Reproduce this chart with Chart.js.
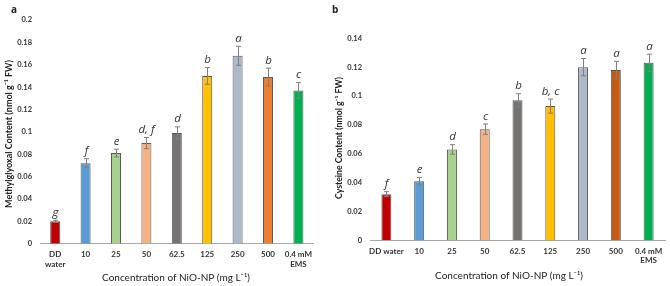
<!DOCTYPE html>
<html><head><meta charset="utf-8">
<script src="https://cdn.jsdelivr.net/npm/chart.js@4/dist/chart.umd.min.js"></script>
<style>
html,body{margin:0;padding:0;background:#fff;}
#wrap{position:relative;width:670px;height:286px;overflow:hidden;}
#c1{position:absolute;left:0;top:0;}
#c2{position:absolute;left:330px;top:0;}
</style></head>
<body><div id="wrap"><canvas id="c1" width="330" height="286"></canvas><canvas id="c2" width="340" height="286"></canvas></div>
<script>
const categoriesA = [["DD","water"],"10","25","50","62.5","125","250","500",["0.4 mM","EMS"]];
const categoriesB = ["DD water","10","25","50","62.5","125","250","500",["0.4 mM","EMS"]];
const mgValues  = [0.020,0.072,0.081,0.090,0.099,0.150,0.168,0.149,0.137];
const mgErrors  = [0.001,0.004,0.0035,0.005,0.0055,0.0075,0.0085,0.008,0.007];
const mgLetters = ["g","f","e","d, f","d","b","a","b","c"];
const cysValues  = [0.032,0.041,0.063,0.077,0.097,0.093,0.120,0.118,0.123];
const cysErrors  = [0.0017,0.0026,0.0033,0.0036,0.0046,0.0049,0.006,0.006,0.006];
const cysLetters = ["f","e","d","c","b","b, c","a","a","a"];
const colorsA = ["#C00000","#5B9BD5","#A9D18E","#F4B183","#767171","#FFC000","#ADB9CA","#ED7D31","#00B050"];
const colorsB = ["#C00000","#5B9BD5","#A9D18E","#F4B183","#767171","#FFC000","#ADB9CA","#C55A11","#00B050"];
const yTicksA = {min:0,max:0.2,step:0.02};
const yTicksB = {min:0,max:0.14,step:0.02};

function makeChart(id, cats, vals, errs, letters, colors, yt, cfg){
  const deco = {
    id:'deco',
    afterDatasetsDraw(chart){
      const ctx = chart.ctx, x = chart.scales.x, y = chart.scales.y;
      ctx.save();
      ctx.strokeStyle = '#7f7f7f'; ctx.lineWidth = 1;
      vals.forEach((v,i)=>{
        const cx = Math.round(x.getPixelForValue(i)) + 0.5;
        const t = y.getPixelForValue(v+errs[i]), b = y.getPixelForValue(v-errs[i]);
        ctx.beginPath();
        ctx.moveTo(cx,t); ctx.lineTo(cx,b);
        ctx.moveTo(cx-2.5,t); ctx.lineTo(cx+2.5,t);
        ctx.moveTo(cx-2.5,b); ctx.lineTo(cx+2.5,b);
        ctx.stroke();
        ctx.fillStyle = '#333';
        ctx.font = 'italic 11.5px "Open Sans"';
        ctx.textAlign = 'center'; ctx.textBaseline = 'bottom';
        ctx.fillText(letters[i], cx, t - 2);
      });
      ctx.fillStyle = '#222';
      ctx.font = 'bold 10px "Open Sans"';
      ctx.textAlign = 'left'; ctx.textBaseline = 'middle';
      ctx.fillText(cfg.panel, cfg.panelX, 10);
      ctx.font = '10px Lato';
      ctx.textAlign = 'center';
      ctx.fillText(cfg.xTitle, cfg.xTitleX, cfg.xTitleY);
      ctx.save();
      ctx.translate(cfg.yTitleX, cfg.yTitleY);
      ctx.rotate(-Math.PI/2);
      ctx.font = 'bold ' + cfg.yTitleSize + 'px Lato';
      ctx.fillText(cfg.yTitle, 0, 0);
      ctx.restore();
      ctx.restore();
    }
  };
  return new Chart(document.getElementById(id), {
    type:'bar',
    data:{labels:cats, datasets:[{data:vals, backgroundColor:colors, borderColor:'#595959', borderWidth:1,
      barPercentage:cfg.barPct, categoryPercentage:1}]},
    options:{
      responsive:false, animation:false,
      layout:{padding:{top:cfg.top, right:cfg.right, left:0, bottom:0}},
      plugins:{legend:{display:false}, tooltip:{enabled:false}},
      scales:{
        x:{grid:{display:false, drawTicks:false}, border:{display:true,color:'#a6a6a6'},
           ticks:{color:'#333', font:{family:'Lato', weight:'bold', size:8}, padding:cfg.xPad, maxRotation:0, autoSkip:false},
           afterFit(s){ s.height = cfg.xHeight; }},
        y:{min:yt.min, max:yt.max, grid:{display:false, drawTicks:false}, border:{display:false},
           ticks:{stepSize:yt.step, color:'#333', font:{family:'Lato', weight:'bold', size:7.5}, padding:8,
             callback:(v)=> String(+v.toFixed(2))},
           afterFit(s){ s.width = 40; }}
      }
    },
    plugins:[deco]
  });
}

makeChart('c1', categoriesA, mgValues, mgErrors, mgLetters, colorsA, yTicksA, {
  panel:'a', panelX:11, top:20, right:16.4, xHeight:42.3, xPad:6, barPct:0.33,
  xTitle:'Concentration of NiO-NP (mg L\u207B\u00B9)', xTitleX:176, xTitleY:278,
  yTitle:'Methylglyoxal Content (nmol g\u207B\u00B9 FW)', yTitleX:9, yTitleY:134, yTitleSize:9
});
makeChart('c2', categoriesB, cysValues, cysErrors, cysLetters, colorsB, yTicksB, {
  panel:'b', panelX:2, top:38.3, right:5, xHeight:45.7, xPad:6, barPct:0.305,
  xTitle:'Concentration of NiO-NP (mg L\u207B\u00B9)', xTitleX:179, xTitleY:276,
  yTitle:'Cysteine Content (nmol g\u207B\u00B9 FW)', yTitleX:9, yTitleY:138, yTitleSize:8.7
});
</script></body></html>
